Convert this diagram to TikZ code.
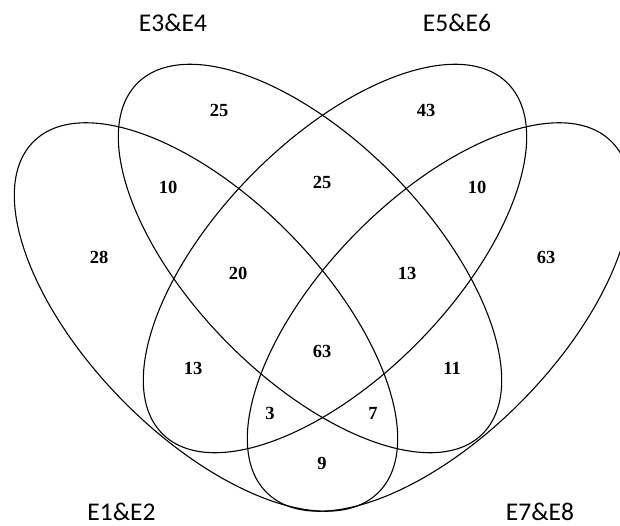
\documentclass[tikz,border=0pt]{standalone}
\usepackage{fontspec}
\setmainfont{Liberation Serif}
\newfontfamily\labfont{Carlito}
\begin{document}
\begin{tikzpicture}[x=1pt,y=1pt,
  setline/.style={line width=1.1pt, black},
  num/.style={font=\fontsize{18.5}{20}\selectfont\bfseries, inner sep=0pt},
  setlabel/.style={font=\labfont\fontsize{25.5}{28}\selectfont, inner sep=0pt}]
\useasboundingbox (0,0) rectangle (620,525);
\clip (0,0) rectangle (620,525);
% ellipses (y measured upward: y = 525 - image y)
\coordinate (cA) at (206,208);
\coordinate (cB) at (310,266.5);
\coordinate (cC) at (335,266.5);
\coordinate (cD) at (439,208);
\draw[setline, rotate around={-45.6:(cA)}] (cA) ellipse [x radius=246pt, y radius=118pt];
\draw[setline, rotate around={-45.6:(cB)}] (cB) ellipse [x radius=246pt, y radius=118pt];
\draw[setline, rotate around={45.6:(cC)}] (cC) ellipse [x radius=246pt, y radius=118pt];
\draw[setline, rotate around={45.6:(cD)}] (cD) ellipse [x radius=246pt, y radius=118pt];
% set labels
\node[setlabel] (l34) at (173,502) {E3\&E4};
\node[setlabel] (l56) at (457,502) {E5\&E6};
\node[setlabel] (l12) at (121.5,13) {E1\&E2};
\node[setlabel] (l78) at (540,13) {E7\&E8};
% region counts
\node[num] (n1) at (219,415) {25};
\node[num] (n2) at (426,415) {43};
\node[num] (n3) at (168,338) {10};
\node[num] (n4) at (322,343) {25};
\node[num] (n5) at (477,338) {10};
\node[num] (n6) at (99,268) {28};
\node[num] (n7) at (238,252) {20};
\node[num] (n8) at (407,252) {13};
\node[num] (n9) at (546,268) {63};
\node[num] (n10) at (193,157) {13};
\node[num] (n11) at (322,174) {63};
\node[num] (n12) at (452,157) {11};
\node[num] (n13) at (270,112) {3};
\node[num] (n14) at (373,112) {7};
\node[num] (n15) at (322,62) {9};
\end{tikzpicture}
\end{document}
